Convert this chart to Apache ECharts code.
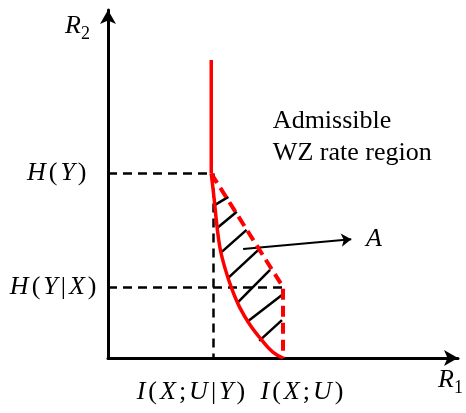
<!DOCTYPE html>
<html>
<head>
<meta charset="utf-8">
<script src="https://cdn.jsdelivr.net/npm/echarts@6/dist/echarts.min.js"></script>
<style>
  html, body { margin: 0; padding: 0; background: #fff; }
  #chart { width: 466px; height: 413px; }
</style>
</head>
<body>
<div id="chart"></div>
<script>
// Rate-region sketch: R1 horizontal, R2 vertical (abstract units 0..10)
const xMarks = [3.0, 5.0];             // I(X;U|Y), I(X;U) on the R1 axis
const xLabelAt = [2.37, 5.54];          // where their labels sit under the axis
const xLabelText = ['I(X;U|Y)', 'I(X;U)'];
const yTickValues = [2.04, 5.3];
const yTickText = ['H(Y|X)', 'H(Y)'];

// solid boundary of the admissible region
const boundaryX = 2.95;
const boundaryTop = 8.56;
const curveX = [2.95, 3.03, 3.11, 3.20, 3.34, 3.53, 3.77, 4.06, 4.39, 4.71, 5.0];
const curveY = [5.3, 4.60, 3.82, 3.16, 2.59, 2.01, 1.44, 0.95, 0.52, 0.17, 0.0];

// dashed upper boundary of region A
const dashX = [2.95, 5.0, 5.0];
const dashY = [5.3, 2.04, 0.0];

// hatch strokes inside region A: [x1, y1, x2, y2]
const hatch = [
  [3.06, 4.40, 3.44, 4.63],
  [3.11, 3.73, 3.68, 4.20],
  [3.25, 3.05, 3.96, 3.68],
  [3.42, 2.29, 4.29, 3.10],
  [3.68, 1.57, 4.63, 2.53],
  [3.96, 1.03, 4.97, 1.81],
  [4.32, 0.49, 4.97, 1.09]
];

// pointer to region A
const arrowFrom = [3.86, 3.13];
const arrowTo = [6.95, 3.41];
const regionLabel = 'A';
const regionLabelAt = [7.37, 3.42];
const regionText = 'Admissible\nWZ rate region';
const regionTextAt = [4.71, 6.35];

const SERIF = "'Liberation Serif', 'Times New Roman', serif";
const MATH = 26;

function mathTokens(str) {
  let out = '';
  for (const ch of str) {
    out += /[A-Za-z]/.test(ch) ? '{v|' + ch + '}' : '{p|' + ch + '}';
  }
  return out;
}

const mathRich = {
  v: { fontFamily: SERIF, fontStyle: 'italic', fontSize: MATH, color: '#000', padding: [0, 1.5] },
  p: { fontFamily: SERIF, fontSize: MATH, color: '#000', padding: [0, 1.5] },
  gy: { fontSize: MATH, width: 10 }
};

const nameRich = {
  R: { fontFamily: SERIF, fontStyle: 'italic', fontSize: MATH, color: '#000', lineHeight: 30, verticalAlign: 'top' },
  s: { fontFamily: SERIF, fontSize: 18, color: '#000', lineHeight: 18, verticalAlign: 'bottom' }
};

const axisLine = {
  show: true,
  symbol: ['none', 'arrow'],
  symbolSize: [12, 14],
  lineStyle: { color: '#000', width: 3 }
};

const guideLines = [
  { coords: [[0, yTickValues[1]], [boundaryX, yTickValues[1]]] },
  { coords: [[0, yTickValues[0]], [xMarks[1], yTickValues[0]]] },
  { coords: [[xMarks[0], yTickValues[1]], [xMarks[0], 0]] }
];

const chart = echarts.init(document.getElementById('chart'), null, { renderer: 'canvas' });
chart.setOption({
  animation: false,
  backgroundColor: '#fff',
  grid: { left: 108, top: 10, right: 8, bottom: 55, containLabel: false },
  xAxis: {
    type: 'value', min: 0, max: 10,
    name: '{R|R}{s|1}', nameLocation: 'end', nameGap: -20,
    nameTextStyle: { align: 'left', verticalAlign: 'top', padding: [9, 0, 0, 0], rich: nameRich },
    axisLine: axisLine,
    axisTick: { show: false },
    splitLine: { show: false },
    axisLabel: {
      customValues: xLabelAt,
      margin: 21,
      showMinLabel: true,
      showMaxLabel: true,
      hideOverlap: false,
      formatter: function (v) {
        const i = xLabelAt.indexOf(v);
        return i < 0 ? '' : mathTokens(xLabelText[i]);
      },
      rich: mathRich
    }
  },
  yAxis: {
    type: 'value', min: 0, max: 10,
    name: '{R|R}{s|2}', nameLocation: 'end', nameGap: -18,
    nameTextStyle: { align: 'right', verticalAlign: 'middle', padding: [0, 18, 0, 0], rich: nameRich },
    axisLine: axisLine,
    axisTick: { show: false },
    splitLine: { show: false },
    axisLabel: {
      customValues: yTickValues,
      margin: 10,
      showMinLabel: true,
      showMaxLabel: true,
      hideOverlap: false,
      formatter: function (v) {
        const i = yTickValues.indexOf(v);
        if (i === 0) return mathTokens(yTickText[0]);
        if (i === 1) return mathTokens(yTickText[1]) + '{gy| }';
        return '';
      },
      rich: mathRich
    }
  },
  series: [
    {
      type: 'lines', coordinateSystem: 'cartesian2d', z: 2,
      lineStyle: { color: '#000', width: 2.5, type: [9, 6], opacity: 1 },
      data: guideLines
    },
    {
      type: 'lines', coordinateSystem: 'cartesian2d', z: 3,
      lineStyle: { color: '#000', width: 2.5, opacity: 1 },
      data: hatch.map(h => ({ coords: [[h[0], h[1]], [h[2], h[3]]] }))
    },
    {
      type: 'lines', coordinateSystem: 'cartesian2d', z: 3,
      symbol: ['none', 'arrow'], symbolSize: 10,
      lineStyle: { color: '#000', width: 2, opacity: 1 },
      data: [{ coords: [arrowFrom, arrowTo] }]
    },
    {
      type: 'line', z: 5, symbol: 'none',
      lineStyle: { color: '#ff0000', width: 3.5 },
      data: [[boundaryX, boundaryTop], [boundaryX, curveY[0]]]
    },
    {
      type: 'line', z: 5, symbol: 'none', smooth: 0.4,
      lineStyle: { color: '#ff0000', width: 3.5 },
      data: curveX.map((x, i) => [x, curveY[i]])
    },
    {
      type: 'line', z: 5, symbol: 'none',
      lineStyle: { color: '#ff0000', width: 4, type: [11, 6] },
      data: dashX.map((x, i) => [x, dashY[i]])
    },
    {
      type: 'scatter', z: 6, symbolSize: 0, silent: true,
      label: {
        show: true, position: [0, 0], align: 'left', verticalAlign: 'middle',
        fontFamily: SERIF, fontSize: 26, lineHeight: 32, color: '#000',
        textBorderWidth: 0, opacity: 1,
        formatter: function (p) { return p.data.text; }
      },
      data: [
        { value: regionTextAt, text: regionText },
        { value: regionLabelAt, text: regionLabel, label: { fontStyle: 'italic' } }
      ]
    }
  ]
});
</script>
</body>
</html>
